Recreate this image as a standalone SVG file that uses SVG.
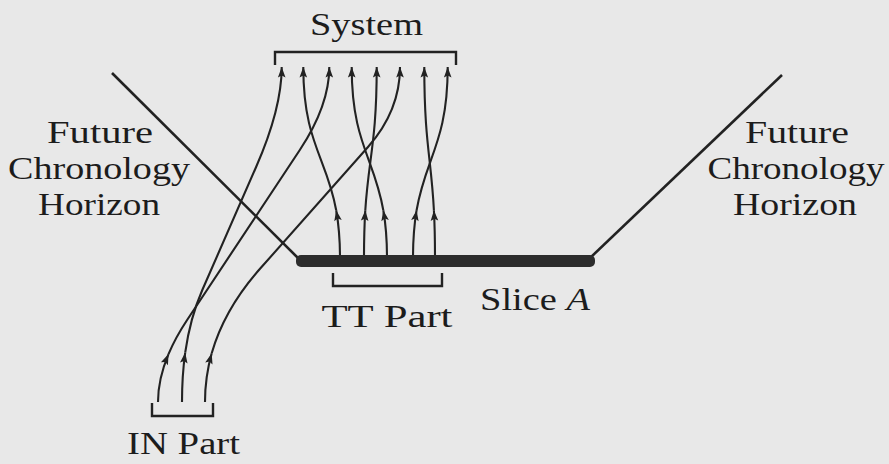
<svg xmlns="http://www.w3.org/2000/svg" width="889" height="464" viewBox="0 0 889 464">
<defs>
<marker id="ah" viewBox="-12 -5 13 10" refX="0" refY="0" markerWidth="13" markerHeight="10" markerUnits="userSpaceOnUse" orient="auto">
<path d="M0,0 L-10.5,-3.8 L-8.5,0 L-10.5,3.8 Z" fill="#222"/>
</marker>
</defs>
<style>
.c{fill:none;stroke:#222;stroke-width:2.1;marker-end:url(#ah)}
.h{fill:none;stroke:#222;stroke-width:2.6}
.br{fill:none;stroke:#222;stroke-width:2.4}
text{font-family:"Liberation Serif","Times New Roman",serif;font-size:32px;fill:#1c1c1c}
</style>
<rect width="889" height="464" fill="#e8e8e8"/>

<g id="horizon-left">
<line class="h" x1="112" y1="73" x2="298" y2="258"/>
<text x="100" y="143" text-anchor="middle" textLength="106" lengthAdjust="spacingAndGlyphs">Future</text>
<text x="99" y="179" text-anchor="middle" textLength="182" lengthAdjust="spacingAndGlyphs">Chronology</text>
<text x="99" y="215" text-anchor="middle" textLength="122" lengthAdjust="spacingAndGlyphs">Horizon</text>
</g>

<g id="horizon-right">
<line class="h" x1="782" y1="75" x2="590" y2="258"/>
<text x="797" y="143" text-anchor="middle" textLength="104" lengthAdjust="spacingAndGlyphs">Future</text>
<text x="796" y="179" text-anchor="middle" textLength="177" lengthAdjust="spacingAndGlyphs">Chronology</text>
<text x="795" y="215" text-anchor="middle" textLength="124" lengthAdjust="spacingAndGlyphs">Horizon</text>
</g>

<g id="system">
<path class="br" d="M275,65 V52 H456 V65"/>
<text x="366.5" y="35" text-anchor="middle" textLength="113" lengthAdjust="spacingAndGlyphs">System</text>
</g>

<g id="connectors">
<path class="c" d="M182,402 Q182,375.8 185.2,352.6"/>
<path class="c" d="M185.2,352.6 Q190.1,317.9 202.3,290 L256.1,167 Q281.7,108.6 281.7,67"/>
<path class="c" d="M158,402 Q158,379.1 168.5,354.1"/>
<path class="c" d="M168.5,354.1 Q175.5,337.5 187.1,320 L299.8,150 Q329.3,105.5 329.3,67"/>
<path class="c" d="M205,402 Q205,377.2 211.7,353.3"/>
<path class="c" d="M211.7,353.3 Q224.3,309.2 260,268.8 L368,147 Q400,110.8 400,67"/>
<path class="c" d="M340,258 C340,238.7 338.5,223.3 336.2,210.2"/>
<path class="c" d="M336.2,210.2 C326.8,157.7 303.3,142.6 303.3,67"/>
<path class="c" d="M364,258 C364,238.7 364.5,223.3 365.3,210.2"/>
<path class="c" d="M365.3,210.2 C368.6,157.7 376.7,142.6 376.7,67"/>
<path class="c" d="M387,258 C387,238.7 385.6,223.3 383.3,210.2"/>
<path class="c" d="M383.3,210.2 C374.3,157.7 351.7,142.6 351.7,67"/>
<path class="c" d="M413,258 C413,238.7 414.4,223.3 416.6,210.2"/>
<path class="c" d="M416.6,210.2 C425.5,157.7 447.7,142.6 447.7,67"/>
<path class="c" d="M435,258 C435,238.7 434.6,223.3 433.9,210.2"/>
<path class="c" d="M433.9,210.2 C431.2,157.7 424.3,142.6 424.3,67"/>
</g>

<g id="slice-a">
<rect x="296" y="255" width="299" height="12" rx="5" fill="#2c2c2c"/>
<text x="480" y="310" textLength="110" lengthAdjust="spacingAndGlyphs">Slice <tspan font-style="italic">A</tspan></text>
</g>

<g id="tt-part">
<path class="br" d="M333,273 V286 H442 V273"/>
<text x="387" y="327" text-anchor="middle" textLength="131" lengthAdjust="spacingAndGlyphs">TT Part</text>
</g>

<g id="in-part">
<path class="br" d="M152,403 V416 H213 V403"/>
<text x="183.5" y="454" text-anchor="middle" textLength="113" lengthAdjust="spacingAndGlyphs">IN Part</text>
</g>
</svg>
